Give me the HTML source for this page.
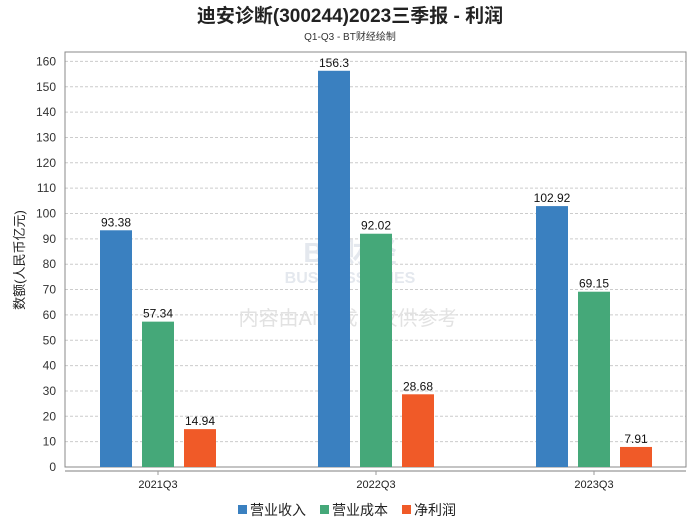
<!DOCTYPE html>
<html><head><meta charset="utf-8"><style>
body{margin:0;background:#fff;font-family:"Liberation Sans","Noto Sans CJK SC",sans-serif}
</style></head><body>
<svg width="700" height="524" xmlns="http://www.w3.org/2000/svg" style="font-family:'Liberation Sans','Noto Sans CJK SC',sans-serif">
<text x="350" y="22" text-anchor="middle" font-size="19" font-weight="bold" fill="#222">迪安诊断(300244)2023三季报 - 利润</text>
<text x="350" y="40" text-anchor="middle" font-size="10" fill="#333">Q1-Q3 - BT财经绘制</text>
<g id="grid"></g>
<rect x="65" y="52" width="621" height="415" fill="none" stroke="#888"/>
<line x1="65" y1="471" x2="686" y2="471" stroke="#aaa" stroke-width="1.5"/>
<text x="350" y="262" text-anchor="middle" font-size="28" font-weight="bold" fill="#e4e8ee">BT财经</text>
<text x="350" y="283" text-anchor="middle" font-size="16" font-weight="bold" fill="#e4e8ee">BUSINESSTIMES</text>
<text x="348" y="325" text-anchor="middle" font-size="20" fill="#e2e2e2">内容由AI生成，仅供参考</text>
<g id="bars"></g>
<text transform="translate(24,260) rotate(-90)" text-anchor="middle" font-size="13" fill="#222">数额(人民币亿元)</text>
<g>
<rect x="238" y="505" width="9" height="9" fill="#3a80c0"/>
<text x="250" y="515" font-size="14" fill="#222">营业收入</text>
<rect x="320" y="505" width="9" height="9" fill="#45a879"/>
<text x="332" y="515" font-size="14" fill="#222">营业成本</text>
<rect x="402" y="505" width="9" height="9" fill="#f05a28"/>
<text x="414" y="515" font-size="14" fill="#222">净利润</text>
</g>
</svg>
<script>
const categories=["2021Q3","2022Q3","2023Q3"];
const revenue=[93.38,156.3,102.92];
const cost=[57.34,92.02,69.15];
const profit=[14.94,28.68,7.91];
const yTicks=[0,10,20,30,40,50,60,70,80,90,100,110,120,130,140,150,160];
const NS="http://www.w3.org/2000/svg";
const svg=document.querySelector("svg");
const grid=document.getElementById("grid"),bars=document.getElementById("bars");
function y(v){return 467-v*25.35/10;}
function x(i){return 158+i*218;}
function mk(t,a,p){const e=document.createElementNS(NS,t);for(const k in a)e.setAttribute(k,a[k]);p.appendChild(e);return e;}
yTicks.forEach(v=>{
 if(v>0){const l=mk("line",{x1:65,x2:686,y1:y(v),y2:y(v),stroke:"#ccc","stroke-dasharray":"3,2"},grid);
 
 }
 const t=mk("text",{x:56,y:y(v)+4,"text-anchor":"end","font-size":12,fill:"#333"},grid);t.textContent=v;
 
 
});
const series=[[revenue,"#3a80c0",-42],[cost,"#45a879",0],[profit,"#f05a28",42]];
categories.forEach((c,i)=>{
 const tk=mk("line",{x1:x(i),x2:x(i),y1:471,y2:475,stroke:"#999"},bars);
 
 
 const t=mk("text",{x:x(i),y:488,"text-anchor":"middle","font-size":11,fill:"#222"},bars);t.textContent=c;
 
 
 series.forEach(([d,col,off])=>{
  const r=mk("rect",{x:x(i)+off-16,y:y(d[i]),width:32,height:467-y(d[i]),fill:col},bars);
  
  
  const lb=mk("text",{x:x(i)+off,y:y(d[i])-4,"text-anchor":"middle","font-size":12,fill:"#111"},bars);lb.textContent=d[i];
  
  
 });
});
</script>
</body></html>
